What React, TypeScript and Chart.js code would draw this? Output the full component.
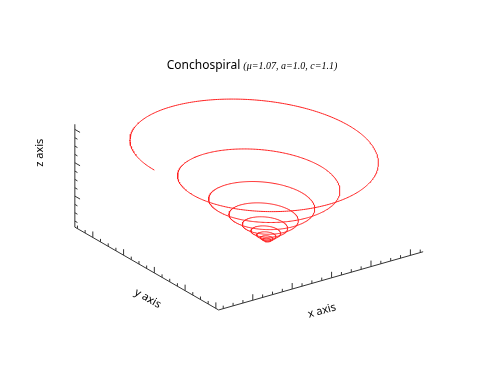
import { useEffect, useRef } from "react";
import { Chart, registerables } from "chart.js";

Chart.register(...registerables);

// ---- Curve definition (parameters read from the title) ----
const MU = 1.07;
const A = 1.0;
const C = 1.1;
const T_RANGE = [0, 18 * Math.PI];
const SAMPLES = 3000;

// ---- Axis ticks (data units) ----
const X_TICKS = [-36, -32, -28, -24, -20, -16, -12, -8, -4, 0, 4, 8, 12, 16, 20, 24, 28, 32, 36, 40, 44];
const Y_TICKS = [-40, -36, -32, -28, -24, -20, -16, -12, -8, -4, 0, 4, 8, 12, 16, 20, 24, 28, 32];
const Z_TICKS = [4, 8, 12, 16, 20, 24, 28, 32, 36, 40, 44, 48];
const MAJOR_STEP = 16;

// ---- Texts ----
const TITLE_MAIN = "Conchospiral";
const TITLE_PARAMS = "(μ=1.07, a=1.0, c=1.1)";
const AXIS_LABELS = ["x axis", "y axis", "z axis"];

// ---- View (orthographic camera) ----
const AZIM = (54.9 * Math.PI) / 180;
const ELEV = (23.9 * Math.PI) / 180;
const BOX_ASPECT = [1, 1, 0.45];
const VIEW_X = [-0.996, 1.004];
const VIEW_Y = [-0.748, 0.752];
const W = 500;
const H = 375;
const PX_PER_UNIT = W / (VIEW_X[1] - VIEW_X[0]);

// ---- build curve ----
type P3 = [number, number, number];
const curve: P3[] = [];
for (let i = 0; i <= SAMPLES; i++) {
  const t = T_RANGE[0] + ((T_RANGE[1] - T_RANGE[0]) * i) / SAMPLES;
  const g = Math.pow(MU, t);
  curve.push([A * g * Math.cos(t), A * g * Math.sin(t), C * g]);
}
const mins = [0, 1, 2].map((k) => Math.min(...curve.map((p) => p[k])));
const maxs = [0, 1, 2].map((k) => Math.max(...curve.map((p) => p[k])));

function toView(p: P3) {
  const n = [0, 1, 2].map((k) => ((p[k] - mins[k]) / (maxs[k] - mins[k]) - 0.5) * BOX_ASPECT[k]);
  const [u, v, w] = n;
  const h = -Math.sin(AZIM) * u + Math.cos(AZIM) * v;
  const up = -Math.sin(ELEV) * Math.cos(AZIM) * u - Math.sin(ELEV) * Math.sin(AZIM) * v + Math.cos(ELEV) * w;
  return { x: h, y: up };
}

function dirView(from: P3, axis: number) {
  const to: P3 = [from[0], from[1], from[2]];
  to[axis] += (maxs[axis] - mins[axis]) * 0.1;
  const a = toView(from);
  const b = toView(to);
  const dx = b.x - a.x;
  const dy = b.y - a.y;
  const l = Math.hypot(dx, dy);
  return { x: dx / l, y: dy / l };
}

const GAP = { x: NaN, y: NaN };

function tickSegments(ticks: number[], axis: number, base: (v: number) => P3, tickAxis: number) {
  const out: { x: number; y: number }[] = [];
  ticks
    .filter((v) => v >= mins[axis] && v <= maxs[axis])
    .forEach((v) => {
      const p = base(v);
      const s = toView(p);
      const d = dirView(p, tickAxis);
      const len = (v % MAJOR_STEP === 0 ? 6 : 3) / PX_PER_UNIT;
      out.push(s, { x: s.x + d.x * len, y: s.y + d.y * len }, GAP);
    });
  return out;
}

const [xmin, ymin, zmin] = mins;
const [xmax, ymax, zmax] = maxs;

const spiralData = curve.map(toView);
const axisData = [
  toView([xmin, ymax, zmin]),
  toView([xmax, ymax, zmin]),
  toView([xmax, ymin, zmin]),
  toView([xmax, ymin, zmax]),
];
const tickData = [
  ...tickSegments(X_TICKS, 0, (v) => [v, ymax, zmin], 2),
  ...tickSegments(Y_TICKS, 1, (v) => [xmax, v, zmin], 2),
  ...tickSegments(Z_TICKS, 2, (v) => [xmax, ymin, v], 1),
];

const labelPlugin = {
  id: "labels3d",
  afterDraw(chart: any) {
    const ctx = chart.ctx as CanvasRenderingContext2D;
    const sx = chart.scales.x;
    const sy = chart.scales.y;
    const px = (p: { x: number; y: number }) => ({ x: sx.getPixelForValue(p.x), y: sy.getPixelForValue(p.y) });
    ctx.save();
    // title
    const fMain = "12px 'Noto Sans', sans-serif";
    const fPar = "italic 10px 'Liberation Serif', serif";
    ctx.font = fMain;
    const w1 = ctx.measureText(TITLE_MAIN + " ").width;
    ctx.font = fPar;
    const w2 = ctx.measureText(TITLE_PARAMS).width;
    const cx = chart.width / 2 + 2;
    const x0 = cx - (w1 + w2) / 2;
    const ty = 66;
    ctx.textBaseline = "middle";
    ctx.textAlign = "left";
    ctx.fillStyle = "#000";
    ctx.font = fMain;
    ctx.fillText(TITLE_MAIN + " ", x0, ty);
    ctx.font = fPar;
    ctx.fillText(TITLE_PARAMS, x0 + w1, ty + 0.5);

    // axis labels
    const anchors: { p: P3; off: [number, number]; dirFrom: P3; dirTo: P3 }[] = [
      { p: [(xmin + xmax) / 2, ymax, zmin], off: [1, 30], dirFrom: [xmax, ymax, zmin], dirTo: [xmin, ymax, zmin] },
      { p: [xmax, (ymin + ymax) / 2, zmin], off: [1, 30], dirFrom: [xmax, ymin, zmin], dirTo: [xmax, ymax, zmin] },
      { p: [xmax, ymin, (zmin + zmax) / 2], off: [-35, -23], dirFrom: [xmax, ymin, zmin], dirTo: [xmax, ymin, zmax] },
    ];
    ctx.font = "11px 'Noto Sans', sans-serif";
    ctx.textAlign = "center";
    anchors.forEach((a, i) => {
      const c = px(toView(a.p));
      const f = px(toView(a.dirFrom));
      const t = px(toView(a.dirTo));
      const ang = Math.atan2(t.y - f.y, t.x - f.x);
      ctx.save();
      ctx.translate(c.x + a.off[0], c.y + a.off[1]);
      ctx.rotate(ang);
      ctx.fillText(AXIS_LABELS[i], 0, 0);
      ctx.restore();
    });
    ctx.restore();
  },
};

export default function App() {
  const ref = useRef<HTMLCanvasElement | null>(null);
  useEffect(() => {
    if (!ref.current) return;
    const chart = new Chart(ref.current, {
      type: "scatter",
      data: {
        datasets: [
          {
            data: axisData,
            showLine: true,
            borderColor: "#333",
            borderWidth: 1,
            pointRadius: 0,
            spanGaps: false,
          },
          {
            data: tickData,
            showLine: true,
            borderColor: "#333",
            borderWidth: 1,
            pointRadius: 0,
            spanGaps: false,
          },
          {
            data: spiralData,
            showLine: true,
            borderColor: "#ff2020",
            borderWidth: 1,
            pointRadius: 0,
          },
        ],
      },
      options: {
        animation: false,
        responsive: false,
        devicePixelRatio: 1,
        layout: { padding: 0 },
        scales: {
          x: { type: "linear", min: VIEW_X[0], max: VIEW_X[1], display: false },
          y: { type: "linear", min: VIEW_Y[0], max: VIEW_Y[1], display: false },
        },
        plugins: {
          legend: { display: false },
          tooltip: { enabled: false },
          title: { display: false },
        },
        events: [],
      },
      plugins: [labelPlugin],
    });
    return () => chart.destroy();
  }, []);
  return (
    <div style={{ position: "absolute", left: 0, top: 0, width: W, height: H, background: "#fff" }}>
      <canvas ref={ref} width={W} height={H} />
    </div>
  );
}
